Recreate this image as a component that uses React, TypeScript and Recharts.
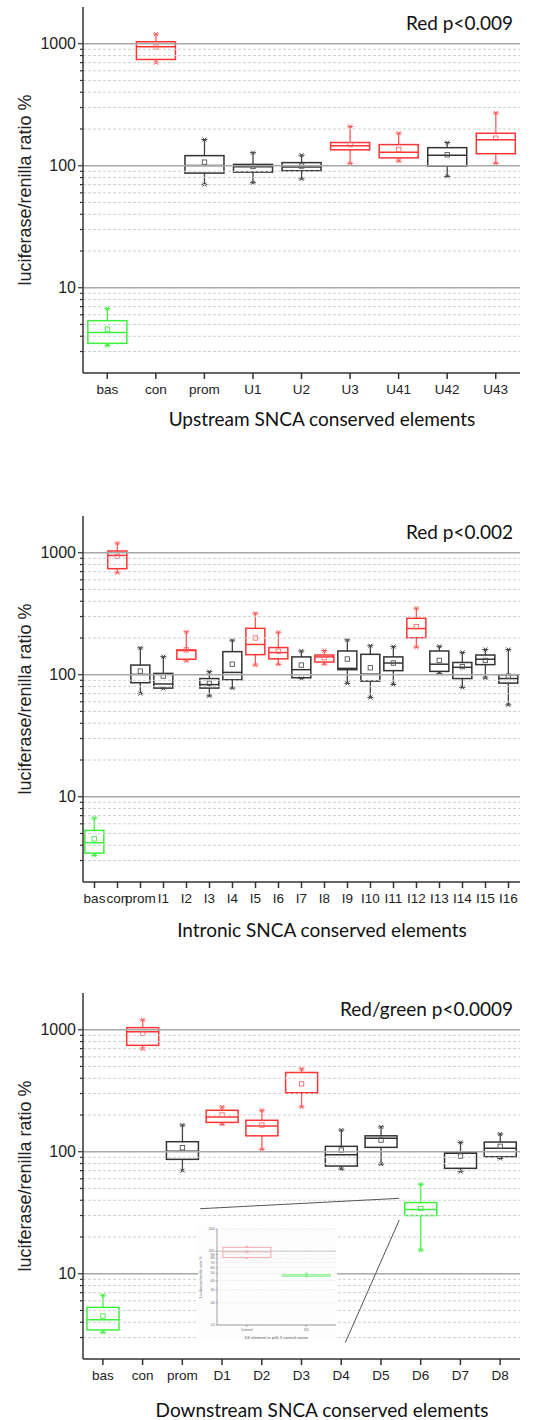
import { ComposedChart, Bar, XAxis, YAxis, ReferenceLine } from 'recharts'

// upstream panel
const UP_CATS = ['bas', 'con', 'prom', 'U1', 'U2', 'U3', 'U41', 'U42', 'U43']
const UP_SIG = ['g', 'r', 'k', 'k', 'k', 'r', 'r', 'k', 'r']
const UP_LOW = [3.35, 698, 70, 72.5, 78, 104.5, 109, 81.7, 104.5]
const UP_Q1 = [3.5, 743, 87, 88.7, 91, 135, 116, 99.4, 125.5]
const UP_MED = [4.3, 945, 100.6, 98, 97.5, 146, 129, 122, 163.6]
const UP_Q3 = [5.37, 1038, 121, 102.5, 106, 155, 149, 140.6, 184.5]
const UP_HIGH = [6.77, 1200, 164, 128, 122, 210, 185, 155, 271]
const UP_MEAN = [4.58, 940, 107, 98.7, 99.4, 149, 136, 123, 168]

// intronic panel
const IN_CATS = ['bas', 'con', 'prom', 'I1', 'I2', 'I3', 'I4', 'I5', 'I6', 'I7', 'I8', 'I9', 'I10', 'I11', 'I12', 'I13', 'I14', 'I15', 'I16']
const IN_SIG = ['g', 'r', 'k', 'k', 'r', 'k', 'k', 'r', 'r', 'k', 'r', 'k', 'k', 'k', 'r', 'k', 'k', 'k', 'k']
const IN_LOW = [3.3, 685, 70, 77, 130, 67, 77.7, 120, 121.6, 93, 122, 85, 65, 83.3, 168, 102.5, 78.7, 94, 56.6]
const IN_Q1 = [3.45, 740, 86, 77.7, 134, 77.7, 91, 146, 135, 94.5, 127, 110, 88.7, 108, 201, 106.5, 93, 121, 85.4]
const IN_MED = [4.2, 950, 100.6, 84, 158, 83, 104.5, 177, 152, 110, 140, 112.7, 101, 124.7, 239, 122, 115, 134, 93]
const IN_Q3 = [5.3, 1033, 120, 102.5, 159.5, 93, 154.6, 240, 167, 140, 145, 156.5, 147, 140, 290, 156.5, 126, 145, 100]
const IN_HIGH = [6.7, 1200, 166, 140.6, 225, 106, 192, 319, 223, 156.5, 158, 193, 173, 170, 351, 171, 152.5, 161, 161]
const IN_MEAN = [4.52, 935, 107, 97.5, 160, 85, 122, 200, 156, 120, 138, 134.5, 114, 124.7, 248, 131, 116.5, 131, 97.5]

// downstream panel
const DN_CATS = ['bas', 'con', 'prom', 'D1', 'D2', 'D3', 'D4', 'D5', 'D6', 'D7', 'D8']
const DN_SIG = ['g', 'r', 'k', 'r', 'r', 'r', 'k', 'k', 'g', 'k', 'k']
const DN_LOW = [3.3, 695, 69.9, 167, 104.5, 233, 72, 79, 15.6, 68.6, 88]
const DN_Q1 = [3.46, 745, 86.6, 174, 135, 304, 76.3, 108.6, 30, 73.1, 91]
const DN_MED = [4.2, 964, 100.7, 193, 162.6, 304, 94.5, 128.8, 33.6, 97, 106.6]
const DN_Q3 = [5.3, 1040, 120.8, 218.6, 181, 446, 110.7, 135, 38.3, 98.9, 120]
const DN_HIGH = [6.67, 1207, 165.5, 233, 218.6, 478, 150.6, 160, 54.2, 119.4, 139.7]
const DN_MEAN = [4.5, 935, 107.8, 200, 165.5, 360, 103.3, 124.7, 34.2, 92.2, 110.7]
// zoom connector lines (category index, value) -> (category index, value)
const DN_LINKS = [
  [2.45, 34.1, 7.46, 41.5],
  [7.46, 27.5, 6.1, 2.72],
]

// inset: D6 element in pGL3 control vector
const INSET_CATS = ['Control', 'D6']
const INSET_SIG = ['r', 'g']
const INSET_LOW = [80, 45]
const INSET_Q1 = [82.7, 45.5]
const INSET_MED = [98, 47]
const INSET_Q3 = [113, 48.6]
const INSET_HIGH = [116.6, 50.6]
const INSET_MEAN = [98.4, 47]
const INSET_TICKS = [10, 20, 30, 40, 50, 60, 70, 80, 90, 100, 200]

const MAJOR = [10, 100, 1000]
const MINOR = [3, 4, 5, 6, 7, 8, 9, 20, 30, 40, 50, 60, 70, 80, 90, 200, 300, 400, 500, 600, 700, 800, 900]
const Y_TICKS = [...MINOR, ...MAJOR].sort((a, b) => a - b)

const COLORS: Record<string, { box: string; line: string; mean: string }> = {
  r: { box: '#ff3535', line: '#ff5a5a', mean: '#ff6a6a' },
  k: { box: '#333333', line: '#444444', mean: '#555555' },
  g: { box: '#3ef03e', line: '#3ef03e', mean: '#44ea44' },
}
const INSET_COLORS: Record<string, { box: string; line: string; mean: string }> = {
  r: { box: '#ff8c8c', line: '#ff9a9a', mean: '#ff8c8c' },
  g: { box: '#8cf08c', line: '#8cf08c', mean: '#70e070' },
}

const SANS = '"Liberation Sans", Arial, sans-serif'
const TITLE_FONT = 'Lato, "Open Sans", sans-serif'

const boxShape = (s: number, palette: typeof COLORS) => (props: any) => {
  const { x, y, width, height } = props
  const d = props.payload ?? props
  if (d == null || d.high == null) return null
  const top = Math.min(y, y + height)
  const bot = Math.max(y, y + height)
  const hi = Math.log10(d.high)
  const lo = Math.log10(d.low)
  const py = (v: number) => top + ((bot - top) * (hi - Math.log10(v))) / (hi - lo || 1)
  const cx = x + width / 2
  const c = palette[d.sig]
  const cap = 3 * s
  const k = 2 * s
  const m = 2.2 * s
  const ends = [py(d.high), py(d.low)]
  return (
    <g fill="none">
      <line x1={cx} x2={cx} y1={py(d.high)} y2={py(d.q3)} stroke={c.line} strokeWidth={1.3 * s} />
      <line x1={cx} x2={cx} y1={py(d.q1)} y2={py(d.low)} stroke={c.line} strokeWidth={1.3 * s} />
      <rect x={x} y={py(d.q3)} width={width} height={py(d.q1) - py(d.q3)} stroke={c.box} strokeWidth={1.5 * s} />
      <line x1={x} x2={x + width} y1={py(d.med)} y2={py(d.med)} stroke={c.box} strokeWidth={1.5 * s} />
      <rect x={cx - m} y={py(d.mean) - m} width={2 * m} height={2 * m} stroke={c.mean} strokeWidth={0.9 * s} />
      {ends.map((ey, i) => (
        <g key={i} stroke={c.line} strokeWidth={1 * s}>
          <line x1={cx - cap} x2={cx + cap} y1={ey} y2={ey} />
          <line x1={cx - k} x2={cx + k} y1={ey - k} y2={ey + k} />
          <line x1={cx - k} x2={cx + k} y1={ey + k} y2={ey - k} />
        </g>
      ))}
    </g>
  )
}

function YTick(props: any) {
  const { x, y, payload } = props
  const v = payload.value
  const major = MAJOR.includes(v)
  return (
    <g>
      <line x1={x - (major ? 5 : 3)} x2={x} y1={y} y2={y} stroke="#333" strokeWidth={1.2} />
      {major && (
        <text x={x - 7} y={y} textAnchor="end" dominantBaseline="central" fontSize={16} fill="#222" fontFamily={SANS}>
          {v}
        </text>
      )}
    </g>
  )
}

function InsetYTick(props: any) {
  const { x, y, payload } = props
  return (
    <g>
      <line x1={x - 1.5} x2={x} y1={y} y2={y} stroke="#888" strokeWidth={0.6} />
      <text x={x - 2.5} y={y} textAnchor="end" dominantBaseline="central" fontSize={3.6} fill="#666" fontFamily={SANS}>
        {payload.value}
      </text>
    </g>
  )
}

type PanelProps = {
  cats: string[]
  sig: string[]
  low: number[]
  q1: number[]
  med: number[]
  q3: number[]
  high: number[]
  mean: number[]
  top: number
  gap: string
  note: string
  title: string
  titleY: number
  links?: number[][]
}

const PLOT_H = 366

function Panel(p: PanelProps) {
  const data = p.cats.map((cat, i) => ({
    cat,
    idx: i,
    range: [p.low[i], p.high[i]],
    low: p.low[i],
    q1: p.q1[i],
    med: p.med[i],
    q3: p.q3[i],
    high: p.high[i],
    mean: p.mean[i],
    sig: p.sig[i],
  }))
  return (
    <>
      <div style={{ position: 'absolute', left: 0, top: p.top - 7 }}>
        <ComposedChart
          width={542}
          height={7 + PLOT_H + 40}
          data={data}
          margin={{ top: 7, right: 22, bottom: 0, left: 0 }}
          barCategoryGap={p.gap}
        >
          {MINOR.map((v) => (
            <ReferenceLine key={'m' + v} y={v} stroke="#d0d0d0" strokeDasharray="3 2" />
          ))}
          {MAJOR.map((v) => (
            <ReferenceLine key={'M' + v} y={v} stroke="#a8a8a8" strokeWidth={1.5} />
          ))}
          <XAxis
            dataKey="cat"
            interval={0}
            height={40}
            tickSize={6}
            tickMargin={5}
            stroke="#333"
            strokeWidth={1.5}
            tick={{ fontSize: 13.5, fill: '#222', fontFamily: SANS }}
          />
          {p.links && (
            <XAxis
              xAxisId="n"
              type="number"
              dataKey="idx"
              domain={[-0.5, p.cats.length - 0.5]}
              allowDataOverflow
              hide
            />
          )}
          <YAxis
            scale="log"
            domain={[2, 2000]}
            allowDataOverflow
            ticks={Y_TICKS}
            interval={0}
            width={83}
            tickSize={0}
            tickMargin={0}
            stroke="#333"
            strokeWidth={1.5}
            tick={<YTick />}
          />
          <Bar dataKey="range" shape={boxShape(1, COLORS)} isAnimationActive={false} />
          {p.links &&
            p.links.map((l, i) => (
              <ReferenceLine
                key={'l' + i}
                xAxisId="n"
                segment={[
                  { x: l[0], y: l[1] },
                  { x: l[2], y: l[3] },
                ]}
                stroke="#555"
                strokeWidth={1}
                ifOverflow="visible"
              />
            ))}
        </ComposedChart>
      </div>
      <div
        style={{
          position: 'absolute',
          left: 25.3 - PLOT_H / 2,
          top: p.top + PLOT_H / 2 - 9,
          width: PLOT_H,
          height: 18,
          lineHeight: '18px',
          fontSize: 18,
          fontFamily: SANS,
          color: '#222',
          textAlign: 'center',
          transform: 'rotate(-90deg)',
          whiteSpace: 'nowrap',
        }}
      >
        luciferase/renilla ratio %
      </div>
      <div
        style={{
          position: 'absolute',
          right: 542 - 513,
          top: p.top + 15.5 - 10,
          fontSize: 19,
          lineHeight: '19px',
          fontFamily: TITLE_FONT,
          color: '#111',
          whiteSpace: 'nowrap',
        }}
      >
        {p.note}
      </div>
      <div
        style={{
          position: 'absolute',
          left: 322 - 200,
          width: 400,
          top: p.titleY - 10,
          fontSize: 19,
          lineHeight: '19px',
          fontFamily: TITLE_FONT,
          color: '#111',
          textAlign: 'center',
          whiteSpace: 'nowrap',
        }}
      >
        {p.title}
      </div>
    </>
  )
}

function Inset() {
  const data = INSET_CATS.map((cat, i) => ({
    cat,
    range: [INSET_LOW[i], INSET_HIGH[i]],
    low: INSET_LOW[i],
    q1: INSET_Q1[i],
    med: INSET_MED[i],
    q3: INSET_Q3[i],
    high: INSET_HIGH[i],
    mean: INSET_MEAN[i],
    sig: INSET_SIG[i],
  }))
  return (
    <div style={{ position: 'absolute', left: 198, top: 1223, width: 139, height: 117, background: '#fdfdfd' }}>
      <ComposedChart width={139} height={117} data={data} margin={{ top: 6, right: 1, bottom: 0, left: 0 }} barCategoryGap="10%">
        {INSET_TICKS.map((v) => (
          <ReferenceLine
            key={v}
            y={v}
            stroke={v === 100 ? '#c4c4c4' : '#e2e2e2'}
            strokeDasharray={v === 100 ? undefined : '2 1'}
            strokeWidth={v === 100 ? 1 : 0.6}
          />
        ))}
        <XAxis
          dataKey="cat"
          interval={0}
          height={15}
          tickSize={2}
          tickMargin={1}
          stroke="#888"
          strokeWidth={0.8}
          tick={{ fontSize: 3.6, fill: '#666', fontFamily: SANS }}
        />
        <YAxis
          scale="log"
          domain={[10, 200]}
          allowDataOverflow
          ticks={INSET_TICKS}
          interval={0}
          width={19}
          tickSize={0}
          tickMargin={0}
          stroke="#888"
          strokeWidth={0.8}
          tick={<InsetYTick />}
        />
        <Bar dataKey="range" shape={boxShape(0.5, INSET_COLORS)} isAnimationActive={false} />
      </ComposedChart>
      <div
        style={{
          position: 'absolute',
          left: 3 - 48,
          top: 54 - 3,
          width: 96,
          fontSize: 3.8,
          lineHeight: '6px',
          fontFamily: SANS,
          color: '#666',
          textAlign: 'center',
          transform: 'rotate(-90deg)',
          whiteSpace: 'nowrap',
        }}
      >
        Luciferase/renilla ratio %
      </div>
      <div
        style={{
          position: 'absolute',
          left: 19,
          width: 119,
          top: 112,
          fontSize: 4.2,
          lineHeight: '6px',
          fontFamily: SANS,
          color: '#555',
          textAlign: 'center',
          whiteSpace: 'nowrap',
        }}
      >
        D6 element in pGL3 control vector
      </div>
    </div>
  )
}

export default function App() {
  return (
    <div style={{ position: 'absolute', left: 0, top: 0, width: 542, height: 1420, background: '#fff', overflow: 'hidden' }}>
      <Panel
        cats={UP_CATS}
        sig={UP_SIG}
        low={UP_LOW}
        q1={UP_Q1}
        med={UP_MED}
        q3={UP_Q3}
        high={UP_HIGH}
        mean={UP_MEAN}
        top={7}
        gap="10%"
        note="Red p<0.009"
        title="Upstream SNCA conserved elements"
        titleY={419}
      />
      <Panel
        cats={IN_CATS}
        sig={IN_SIG}
        low={IN_LOW}
        q1={IN_Q1}
        med={IN_MED}
        q3={IN_Q3}
        high={IN_HIGH}
        mean={IN_MEAN}
        top={516}
        gap="8%"
        note="Red p<0.002"
        title="Intronic SNCA conserved elements"
        titleY={930}
      />
      <Panel
        cats={DN_CATS}
        sig={DN_SIG}
        low={DN_LOW}
        q1={DN_Q1}
        med={DN_MED}
        q3={DN_Q3}
        high={DN_HIGH}
        mean={DN_MEAN}
        top={993}
        gap="10%"
        note="Red/green p<0.0009"
        title="Downstream SNCA conserved elements"
        titleY={1410}
        links={DN_LINKS}
      />
      <Inset />
    </div>
  )
}
